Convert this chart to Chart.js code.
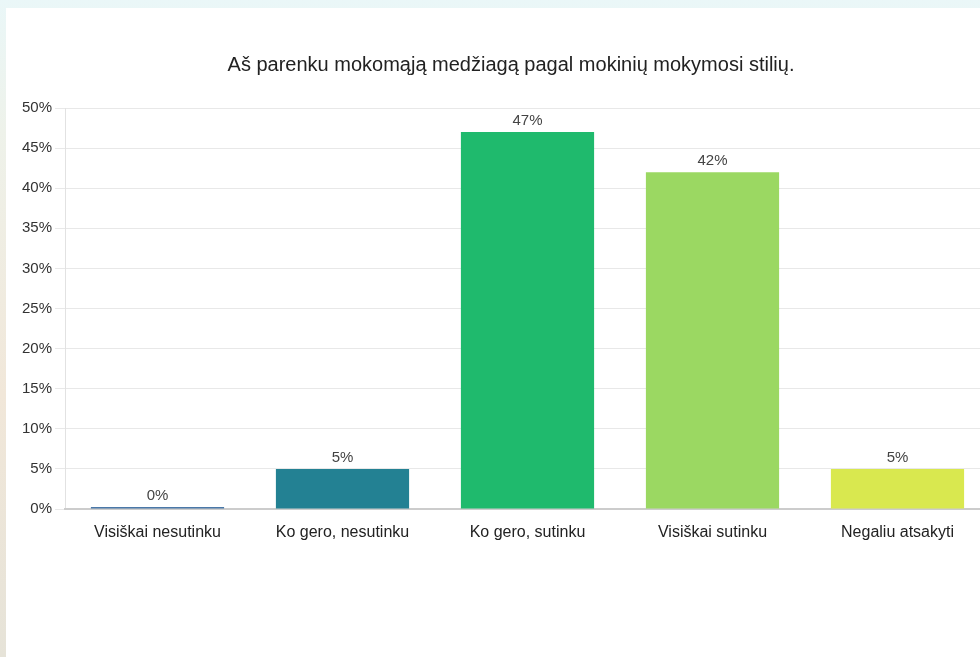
<!DOCTYPE html>
<html>
<head>
<meta charset="utf-8">
<script src="https://cdn.jsdelivr.net/npm/chart.js@4"></script>
<style>
  html, body {
    margin: 0;
    padding: 0;
    width: 980px;
    height: 657px;
    overflow: hidden;
    background: linear-gradient(to bottom, #eaf7f8 0%, #eef2ea 20%, #f1e7d9 60%, #e6e3d8 100%);
  }
  .panel {
    position: absolute;
    left: 6px;
    top: 8px;
    width: 1000px;
    height: 700px;
    background: #fff;
  }
  .wrap {
    position: absolute;
    left: 0;
    top: 0;
    width: 1022px;
    height: 657px;
  }
</style>
</head>
<body>
<div class="panel"></div>
<div class="wrap"><canvas id="myChart"></canvas></div>
<script>
const TITLE = 'Aš parenku mokomąją medžiagą pagal mokinių mokymosi stilių.';
const categories = ['Visiškai nesutinku', 'Ko gero, nesutinku', 'Ko gero, sutinku', 'Visiškai sutinku', 'Negaliu atsakyti'];
const percents = [0, 5, 47, 42, 5];
const barColors = ['#4a78a8', '#238193', '#1fba6d', '#9bd862', '#d9e84f'];
const yTicks = [0, 5, 10, 15, 20, 25, 30, 35, 40, 45, 50];

const FONT = "'Liberation Sans', Arial, sans-serif";

// draws the "47%" style labels above each bar
const valueLabels = {
  id: 'valueLabels',
  afterDatasetsDraw(chart) {
    const ctx = chart.ctx;
    const meta = chart.getDatasetMeta(0);
    ctx.save();
    ctx.font = '15px ' + FONT;
    ctx.fillStyle = '#444';
    ctx.textAlign = 'center';
    ctx.textBaseline = 'bottom';
    meta.data.forEach((bar, i) => {
      ctx.fillText(percents[i] + '%', bar.x, bar.y - 4);
    });
    ctx.restore();
  }
};

const ctx = document.getElementById('myChart');

const myChart = new Chart(ctx, {
  type: 'bar',
  data: {
    labels: categories,
    datasets: [{
      data: percents,
      backgroundColor: barColors,
      borderWidth: 0,
      minBarLength: 2,
      categoryPercentage: 1,
      barPercentage: 0.72,
    }],
  },
  options: {
    responsive: true,
    maintainAspectRatio: false,
    animation: false,
    layout: {
      padding: { left: 0, right: 0, top: 53, bottom: 0 },
    },
    plugins: {
      legend: { display: false },
      tooltip: { enabled: false },
      title: {
        display: true,
        text: TITLE,
        color: '#222',
        font: { family: FONT, size: 20, weight: 'normal' },
        padding: { top: 0, bottom: 31 },
      },
    },
    scales: {
      y: {
        min: 0,
        max: 50,
        afterFit(scale) { scale.width = 65; },
        afterBuildTicks(scale) { scale.ticks = yTicks.map(v => ({ value: v })); },
        ticks: {
          padding: 3,
          color: '#333',
          font: { family: FONT, size: 15 },
          callback: v => v + '%',
        },
        grid: { color: '#e8e8e8', tickLength: 10 },
        border: { color: '#e2e2e2' },
      },
      // empty right-hand spacer so the title sits where it does in the slide
      spacer: {
        type: 'linear',
        position: 'right',
        afterFit(scale) { scale.width = 32; },
        ticks: { display: false },
        grid: { display: false, drawTicks: false },
        border: { display: false },
      },
      x: {
        afterFit(scale) { scale.height = 148; },
        ticks: {
          padding: 14,
          color: '#222',
          maxRotation: 0,
          font: { family: FONT, size: 16 },
        },
        grid: { display: false, drawTicks: false },
        border: { color: '#cccccc', width: 2 },
      },
    },
  },
  plugins: [valueLabels],
});
</script>
</body>
</html>
